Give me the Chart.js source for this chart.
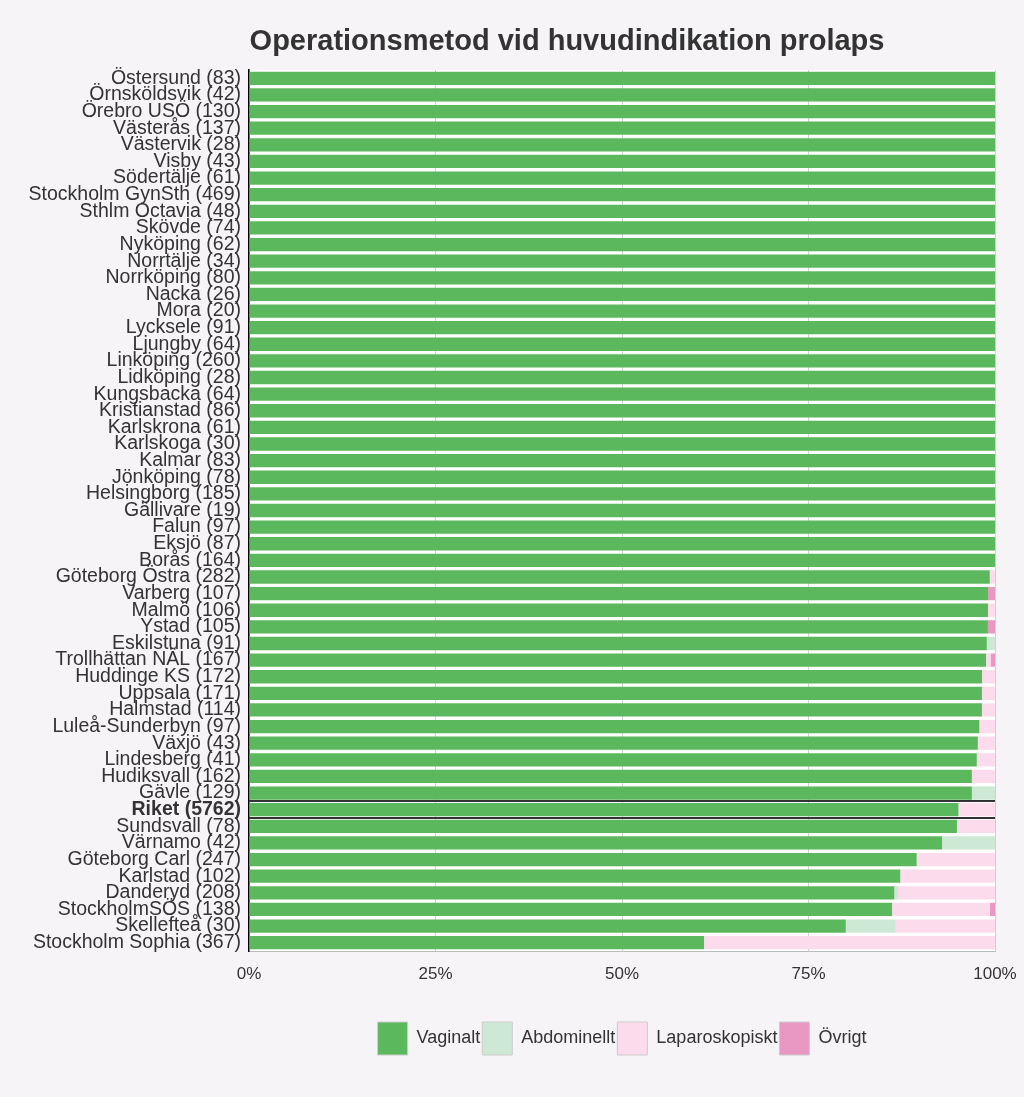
<!DOCTYPE html>
<html>
<head>
<meta charset="utf-8">
<script src="https://cdn.jsdelivr.net/npm/chart.js@4/dist/chart.umd.min.js"></script>
<style>
  html, body { margin: 0; padding: 0; background: #f6f4f7; overflow: hidden; }
  #wrap { width: 1024px; height: 1097px; }
</style>
</head>
<body>
<div id="wrap"><canvas id="prolapsChart"></canvas></div>
<script>
const hospitals = ['Östersund', 'Örnsköldsvik', 'Örebro USÖ', 'Västerås', 'Västervik', 'Visby', 'Södertälje',
  'Stockholm GynSth', 'Sthlm Octavia', 'Skövde', 'Nyköping', 'Norrtälje', 'Norrköping', 'Nacka', 'Mora',
  'Lycksele', 'Ljungby', 'Linköping', 'Lidköping', 'Kungsbacka', 'Kristianstad', 'Karlskrona', 'Karlskoga',
  'Kalmar', 'Jönköping', 'Helsingborg', 'Gällivare', 'Falun', 'Eksjö', 'Borås', 'Göteborg Östra', 'Varberg',
  'Malmö', 'Ystad', 'Eskilstuna', 'Trollhättan NÄL', 'Huddinge KS', 'Uppsala', 'Halmstad', 'Luleå-Sunderbyn',
  'Växjö', 'Lindesberg', 'Hudiksvall', 'Gävle', 'Riket', 'Sundsvall', 'Värnamo', 'Göteborg Carl', 'Karlstad',
  'Danderyd', 'StockholmSÖS', 'Skellefteå', 'Stockholm Sophia'];
const counts = [83, 42, 130, 137, 28, 43, 61, 469, 48, 74, 62, 34, 80, 26, 20, 91, 64, 260, 28, 64, 86, 61, 30,
  83, 78, 185, 19, 97, 87, 164, 282, 107, 106, 105, 91, 167, 172, 171, 114, 97, 43, 41, 162, 129, 5762, 78, 42,
  247, 102, 208, 138, 30, 367];

const vaginalt = [100, 100, 100, 100, 100, 100, 100, 100, 100, 100, 100, 100, 100, 100, 100, 100, 100, 100, 100,
  100, 100, 100, 100, 100, 100, 100, 100, 100, 100, 100, 99.3, 99.07, 99.06, 99.05, 98.9, 98.8, 98.26, 98.25,
  98.25, 97.9, 97.7, 97.56, 96.9, 96.9, 95.1, 94.9, 92.9, 89.5, 87.3, 86.5, 86.2, 80.0, 61.0];
const abdominellt = [0, 0, 0, 0, 0, 0, 0, 0, 0, 0, 0, 0, 0, 0, 0, 0, 0, 0, 0, 0, 0, 0, 0, 0, 0, 0, 0, 0, 0, 0,
  0, 0, 0, 0, 1.1, 0, 0, 0, 0, 0, 0, 0, 0, 3.1, 0, 0, 7.1, 0, 0, 0.5, 0, 6.7, 0];
const laparoskopiskt = [0, 0, 0, 0, 0, 0, 0, 0, 0, 0, 0, 0, 0, 0, 0, 0, 0, 0, 0, 0, 0, 0, 0, 0, 0, 0, 0, 0, 0, 0,
  0.7, 0, 0.94, 0, 0, 0.6, 1.74, 1.75, 1.75, 2.1, 2.3, 2.44, 3.1, 0, 4.9, 5.1, 0, 10.5, 12.7, 13.0, 13.1, 13.3, 39.0];
const ovrigt = [0, 0, 0, 0, 0, 0, 0, 0, 0, 0, 0, 0, 0, 0, 0, 0, 0, 0, 0, 0, 0, 0, 0, 0, 0, 0, 0, 0, 0, 0,
  0, 0.93, 0, 0.95, 0, 0.6, 0, 0, 0, 0, 0, 0, 0, 0, 0, 0, 0, 0, 0, 0, 0.7, 0, 0];

const xTicks = [0, 25, 50, 75, 100];
const totalName = 'Riket';

const labels = hospitals.map((h, i) => h + ' (' + counts[i] + ')');
const totalIndex = hospitals.indexOf(totalName);

const plotBackground = {
  id: 'plotBackground',
  beforeDraw(chart) {
    const { ctx, chartArea } = chart;
    ctx.save();
    ctx.fillStyle = '#ffffff';
    ctx.fillRect(chartArea.left, chartArea.top, chartArea.right - chartArea.left, chartArea.bottom - chartArea.top);
    ctx.restore();
  }
};

// titeln ligger lite till höger om mitten i originalet
const shiftedTitle = {
  id: 'shiftedTitle',
  afterDraw(chart) {
    const ctx = chart.ctx;
    ctx.save();
    ctx.font = 'bold 29px "Liberation Sans", Arial, sans-serif';
    ctx.fillStyle = '#333333';
    ctx.textAlign = 'center';
    ctx.textBaseline = 'middle';
    ctx.fillText('Operationsmetod vid huvudindikation prolaps', chart.width / 2 + 55, 42);
    ctx.restore();
  }
};

Chart.defaults.font.family = '"Liberation Sans", Arial, sans-serif';
Chart.defaults.color = '#333333';

new Chart(document.getElementById('prolapsChart'), {
  type: 'bar',
  data: {
    labels: labels,
    datasets: [
      { label: 'Vaginalt', data: vaginalt, backgroundColor: '#5cb85c' },
      { label: 'Abdominellt', data: abdominellt, backgroundColor: '#cde8d4' },
      { label: 'Laparoskopiskt', data: laparoskopiskt, backgroundColor: '#fcdcec' },
      { label: 'Övrigt', data: ovrigt, backgroundColor: '#e898c3' }
    ]
  },
  options: {
    indexAxis: 'y',
    responsive: true,
    maintainAspectRatio: false,
    animation: false,
    barPercentage: 0.8,
    categoryPercentage: 1,
    layout: { padding: { top: 70, right: 29, bottom: 32, left: 0 } },
    scales: {
      x: {
        stacked: true,
        min: 0,
        max: 100,
        afterBuildTicks: (scale) => { scale.ticks = xTicks.map(v => ({ value: v })); },
        afterFit: (scale) => {
          scale.height = 69;
          scale.paddingRight = 0; // "100%" får gå ut i marginalen
        },
        ticks: {
          callback: (v) => v + '%',
          font: { size: 17 },
          color: '#333333',
          padding: 13,
          maxRotation: 0
        },
        grid: { color: '#d0d0d0', drawTicks: false },
        border: { color: '#bbbbbb' }
      },
      y: {
        stacked: true,
        afterFit: (scale) => { scale.width = 249; },
        ticks: {
          autoSkip: false,
          padding: 8,
          color: '#333333',
          font: (ctx) => ({ size: 19.5, weight: ctx.index === totalIndex ? 'bold' : 'normal' })
        },
        grid: {
          offset: true,
          drawTicks: false,
          lineWidth: 2,
          color: (ctx) => (ctx.index === totalIndex || ctx.index === totalIndex + 1) ? '#333333' : 'rgba(0,0,0,0)'
        },
        border: { color: '#000000', width: 1.5 }
      }
    },
    plugins: {
      title: { display: false },
      tooltip: { enabled: false },
      legend: {
        position: 'bottom',
        fullSize: false,
        labels: {
          boxWidth: 30,
          boxHeight: 33,
          padding: 2,
          font: { size: 18 },
          color: '#333333',
          generateLabels: (chart) => Chart.defaults.plugins.legend.labels.generateLabels(chart).map(item => {
            item.strokeStyle = '#cccccc';
            item.lineWidth = 1;
            return item;
          })
        }
      }
    }
  },
  plugins: [plotBackground, shiftedTitle]
});
</script>
</body>
</html>
